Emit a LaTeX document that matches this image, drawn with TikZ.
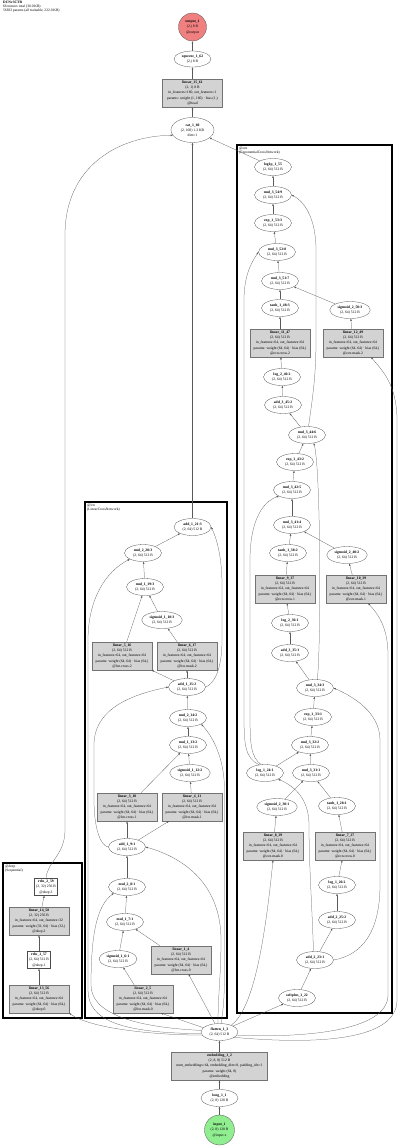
\documentclass[tikz,border=0pt]{standalone}
\usepackage{fontspec}
\setmainfont{Liberation Serif}
\usetikzlibrary{shapes.geometric,arrows.meta}
\definecolor{outred}{RGB}{240,128,128}
\definecolor{ingreen}{RGB}{144,238,144}
\definecolor{boxgray}{RGB}{211,211,211}
\begin{document}
\begin{tikzpicture}[x=1pt,y=-1pt,
  every node/.style={font=\fontsize{3.7}{5.2}\selectfont, align=center, inner sep=0pt},
  ell/.style={ellipse, draw=black!70, line width=0.28pt, fill=white, minimum width=37pt, minimum height=17pt, inner xsep=2pt},
  gbox/.style={rectangle, draw=black!55, line width=0.28pt, fill=boxgray, minimum width=60pt, minimum height=28pt},
  wbox/.style={rectangle, draw=black!70, line width=0.28pt, fill=white, minimum height=17pt, inner xsep=1.5pt},
  edge/.style={draw=black!65, line width=0.25pt, -{Latex[length=2.2pt,width=1.7pt]}},
  clus/.style={draw=black, line width=1.4pt},
  lbl/.style={anchor=north west, align=left, font=\fontsize{3.6}{4.2}\selectfont},
  ]
\useasboundingbox (0,0) rectangle (400,1146);
\fill[white] (0,0) rectangle (400,1146);

% title
\node[lbl] (title) at (3,0.8) {\textbf{DCNv3CTR}\\66 tensors total (30.0 KB)\\56833 params (all trainable, 222.0 KB)};

% clusters
\draw[clus] (85,502) rectangle (227,1018);
\node[lbl] (lcnlbl) at (87,503.5) {@lcn\\(LinearCrossNetwork)};
\draw[clus] (237,145) rectangle (392,1013);
\node[lbl] (ecnlbl) at (239,146.5) {@ecn\\(ExponentialCrossNetwork)};
\draw[clus] (3,863) rectangle (82,1018);
\node[lbl] (deeplbl) at (5,864.5) {@deep\\(Sequential)};

% main column
\node[circle, draw=black!70, line width=0.28pt, fill=outred, minimum size=28pt] (output1) at (192.5,27) {\textbf{output\_1}\\(2,) 8 B\\@output};
\node[ell, minimum height=16pt] (squeeze) at (192.5,59) {\textbf{squeeze\_1\_62}\\(2,) 8 B};
\node[gbox] (lin15) at (192.5,93) {\textbf{linear\_15\_61}\\(2, 1) 8 B\\in\_features=160, out\_features=1\\params: weight (1, 160) · bias (1,)\\@head};
\node[ell, minimum width=43pt, minimum height=25pt] (cat) at (192.5,130) {\textbf{cat\_1\_60}\\(2, 160) 1.2 KB\\dim=1};
\node[ell] (flat) at (219.5,1032) {\textbf{flatten\_1\_3}\\(2, 64) 512 B};
\node[gbox, minimum width=96pt] (emb) at (219.5,1066) {\textbf{embedding\_1\_2}\\(2, 8, 8) 512 B\\num\_embeddings=64, embedding\_dim=8, padding\_idx=1\\params: weight (64, 8)\\@embedding};
\node[ell] (long) at (219.5,1098) {\textbf{long\_1\_1}\\(2, 8) 128 B};
\node[circle, draw=black!70, line width=0.28pt, fill=ingreen, minimum size=30pt] (input1) at (219.5,1130) {\textbf{input\_1}\\(2, 8) 128 B\\@input.x};

% LCN
\node[ell] (add21) at (192.5,527) {\textbf{add\_1\_21:3}\\(2, 64) 512 B};
\node[ell] (mul220) at (143,553) {\textbf{mul\_2\_20:3}\\(2, 64) 512 B};
\node[ell] (mul119) at (145,587) {\textbf{mul\_1\_19:3}\\(2, 64) 512 B};
\node[ell] (sig118) at (162,620) {\textbf{sigmoid\_1\_18:3}\\(2, 64) 512 B};
\node[gbox] (lin5) at (122,656) {\textbf{linear\_5\_16}\\(2, 64) 512 B\\in\_features=64, out\_features=64\\params: weight (64, 64) · bias (64,)\\@lcn.cross.2};
\node[gbox] (lin6) at (187,656) {\textbf{linear\_6\_17}\\(2, 64) 512 B\\in\_features=64, out\_features=64\\params: weight (64, 64) · bias (64,)\\@lcn.mask.2};
\node[ell] (add15) at (187,687) {\textbf{add\_1\_15:2}\\(2, 64) 512 B};
\node[ell] (mul214) at (188,718) {\textbf{mul\_2\_14:2}\\(2, 64) 512 B};
\node[ell] (mul113) at (188,745) {\textbf{mul\_1\_13:2}\\(2, 64) 512 B};
\node[ell] (sig112) at (190,773) {\textbf{sigmoid\_1\_12:2}\\(2, 64) 512 B};
\node[gbox] (lin3) at (127,807) {\textbf{linear\_3\_10}\\(2, 64) 512 B\\in\_features=64, out\_features=64\\params: weight (64, 64) · bias (64,)\\@lcn.cross.1};
\node[gbox] (lin4) at (192,807) {\textbf{linear\_4\_11}\\(2, 64) 512 B\\in\_features=64, out\_features=64\\params: weight (64, 64) · bias (64,)\\@lcn.mask.1};
\node[ell] (add9) at (127,847) {\textbf{add\_1\_9:1}\\(2, 64) 512 B};
\node[ell] (mul28) at (127,887) {\textbf{mul\_2\_8:1}\\(2, 64) 512 B};
\node[ell] (mul17) at (125,922) {\textbf{mul\_1\_7:1}\\(2, 64) 512 B};
\node[ell] (sig16) at (118,959) {\textbf{sigmoid\_1\_6:1}\\(2, 64) 512 B};
\node[gbox] (lin1) at (181,960) {\textbf{linear\_1\_4}\\(2, 64) 512 B\\in\_features=64, out\_features=64\\params: weight (64, 64) · bias (64,)\\@lcn.cross.0};
\node[gbox] (lin2) at (143,999) {\textbf{linear\_2\_5}\\(2, 64) 512 B\\in\_features=64, out\_features=64\\params: weight (64, 64) · bias (64,)\\@lcn.mask.0};

% ECN
\node[ell] (log1p) at (273,167) {\textbf{log1p\_1\_55}\\(2, 64) 512 B};
\node[ell] (mul354) at (273,195) {\textbf{mul\_3\_54:9}\\(2, 64) 512 B};
\node[ell] (exp153) at (273,223) {\textbf{exp\_1\_53:3}\\(2, 64) 512 B};
\node[ell] (mul352) at (277,252) {\textbf{mul\_3\_52:8}\\(2, 64) 512 B};
\node[ell] (mul351) at (280,281) {\textbf{mul\_3\_51:7}\\(2, 64) 512 B};
\node[ell] (tanh48) at (280,308) {\textbf{tanh\_1\_48:3}\\(2, 64) 512 B};
\node[ell] (sig250) at (350,310) {\textbf{sigmoid\_2\_50:3}\\(2, 64) 512 B};
\node[gbox] (lin11) at (280,343) {\textbf{linear\_11\_47}\\(2, 64) 512 B\\in\_features=64, out\_features=64\\params: weight (64, 64) · bias (64,)\\@ecn.cross.2};
\node[gbox] (lin12) at (353,343) {\textbf{linear\_12\_49}\\(2, 64) 512 B\\in\_features=64, out\_features=64\\params: weight (64, 64) · bias (64,)\\@ecn.mask.2};
\node[ell] (log246) at (282,377) {\textbf{log\_2\_46:2}\\(2, 64) 512 B};
\node[ell] (add345) at (283,405) {\textbf{add\_3\_45:2}\\(2, 64) 512 B};
\node[ell] (mul344) at (307,435) {\textbf{mul\_3\_44:6}\\(2, 64) 512 B};
\node[ell] (exp143) at (295,462) {\textbf{exp\_1\_43:2}\\(2, 64) 512 B};
\node[ell] (mul342) at (292,490) {\textbf{mul\_3\_42:5}\\(2, 64) 512 B};
\node[ell] (mul341) at (292,525) {\textbf{mul\_3\_41:4}\\(2, 64) 512 B};
\node[ell] (tanh38) at (288,553) {\textbf{tanh\_1\_38:2}\\(2, 64) 512 B};
\node[ell] (sig240) at (347,555) {\textbf{sigmoid\_2\_40:2}\\(2, 64) 512 B};
\node[gbox] (lin9) at (285,589) {\textbf{linear\_9\_37}\\(2, 64) 512 B\\in\_features=64, out\_features=64\\params: weight (64, 64) · bias (64,)\\@ecn.cross.1};
\node[gbox] (lin10) at (356,589) {\textbf{linear\_10\_39}\\(2, 64) 512 B\\in\_features=64, out\_features=64\\params: weight (64, 64) · bias (64,)\\@ecn.mask.1};
\node[ell] (log236) at (290,623) {\textbf{log\_2\_36:1}\\(2, 64) 512 B};
\node[ell] (add335) at (290,653) {\textbf{add\_3\_35:1}\\(2, 64) 512 B};
\node[ell] (mul334) at (315,688) {\textbf{mul\_3\_34:3}\\(2, 64) 512 B};
\node[ell] (exp133) at (313,717) {\textbf{exp\_1\_33:1}\\(2, 64) 512 B};
\node[ell] (mul332) at (310,745) {\textbf{mul\_3\_32:2}\\(2, 64) 512 B};
\node[ell] (log124) at (265,773) {\textbf{log\_1\_24:1}\\(2, 64) 512 B};
\node[ell] (mul331) at (311,773) {\textbf{mul\_3\_31:1}\\(2, 64) 512 B};
\node[ell] (sig230) at (277,807) {\textbf{sigmoid\_2\_30:1}\\(2, 64) 512 B};
\node[ell] (tanh28) at (337,806) {\textbf{tanh\_1\_28:1}\\(2, 64) 512 B};
\node[gbox] (lin8) at (273,846) {\textbf{linear\_8\_29}\\(2, 64) 512 B\\in\_features=64, out\_features=64\\params: weight (64, 64) · bias (64,)\\@ecn.mask.0};
\node[gbox] (lin7) at (345,846) {\textbf{linear\_7\_27}\\(2, 64) 512 B\\in\_features=64, out\_features=64\\params: weight (64, 64) · bias (64,)\\@ecn.cross.0};
\node[ell] (log126) at (337,885) {\textbf{log\_1\_26:2}\\(2, 64) 512 B};
\node[ell] (add225) at (337,920) {\textbf{add\_2\_25:2}\\(2, 64) 512 B};
\node[ell] (add223) at (315,960) {\textbf{add\_2\_23:1}\\(2, 64) 512 B};
\node[ell] (softplus) at (297,998) {\textbf{softplus\_1\_22}\\(2, 64) 512 B};

% deep
\node[wbox] (relu259) at (46,887) {\textbf{relu\_2\_59}\\(2, 32) 256 B\\@deep.3};
\node[gbox] (lin14) at (39,921) {\textbf{linear\_14\_58}\\(2, 32) 256 B\\in\_features=64, out\_features=32\\params: weight (32, 64) · bias (32,)\\@deep.2};
\node[wbox] (relu157) at (39,960) {\textbf{relu\_1\_57}\\(2, 64) 512 B\\@deep.1};
\node[gbox] (lin13) at (39,999) {\textbf{linear\_13\_56}\\(2, 64) 512 B\\in\_features=64, out\_features=64\\params: weight (64, 64) · bias (64,)\\@deep.0};

% ---- edges: main
\draw[edge] (input1) -- (long);
\draw[edge] (long) -- (emb);
\draw[edge] (emb) -- (flat);
\draw[edge] (cat) -- (lin15);
\draw[edge] (lin15) -- (squeeze);
\draw[edge] (squeeze) -- (output1);
\draw[edge] (add21) -- (cat);
\draw[edge] (log1p) -- (cat);
\draw[edge] (relu259.north) .. controls (47,862) and (65,855) .. (65,830) -- (65,235) .. controls (65,165) and (120,136) .. (cat.195);

% ---- edges: LCN
\draw[edge] (flat) -- (lin1);
\draw[edge] (flat.165) -- ([xshift=18pt]lin2.south);
\draw[edge] (lin2) -- (sig16);
\draw[edge] (sig16) -- (mul17);
\draw[edge] (lin1) -- (mul17);
\draw[edge] (mul17) -- (mul28);
\draw[edge] (flat.175) .. controls (130,1027) and (91,1012) .. (91,985) .. controls (91,930) and (98,905) .. (mul28.south west);
\draw[edge] (mul28) -- (add9);
\draw[edge] (flat.100) .. controls (218,995) and (221,975) .. (221,940) .. controls (221,885) and (185,858) .. (add9.east);
\draw[edge] (add9) -- (lin3);
\draw[edge] (add9) -- (lin4);
\draw[edge] (lin4) -- (sig112);
\draw[edge] (sig112) -- (mul113);
\draw[edge] (lin3) -- (mul113);
\draw[edge] (mul113) -- (mul214);
\draw[edge] (flat.80) .. controls (224,1005) and (224.5,995) .. (224.5,965) -- (224.5,790) .. controls (224.5,760) and (214,738) .. (mul214.south east);
\draw[edge] (mul214) -- (add15);
\draw[edge] (add9.west) .. controls (101,846) and (94,830) .. (94,800) -- (94,745) .. controls (94,705) and (140,693) .. (add15.west);
\draw[edge] (add15) -- (lin5);
\draw[edge] (add15) -- (lin6);
\draw[edge] (lin6) -- (sig118);
\draw[edge] (sig118) -- (mul119);
\draw[edge] (lin5) -- (mul119);
\draw[edge] (mul119) -- (mul220);
\draw[edge] (flat.185) .. controls (120,1033) and (88,1020) .. (88,990) -- (88,640) .. controls (88,600) and (105,572) .. (mul220.south west);
\draw[edge] (mul220) -- (add21);
\draw[edge] (add15.east) .. controls (214,684) and (222,670) .. (222,640) -- (222,585) .. controls (222,555) and (216,537) .. (add21.east);

% ---- edges: ECN
\draw[edge] (flat) -- (softplus);
\draw[edge] (flat.30) .. controls (252,1010) and (264,950) .. (lin8.south);
\draw[edge] (flat.-10) .. controls (300,1038) and (388,1032) .. (388,995) -- (388,655) .. controls (388,625) and (376,612) .. ([xshift=12pt]lin10.south);
\draw[edge] (flat.-20) .. controls (320,1045) and (397,1040) .. (397,1000) -- (397,420) .. controls (397,385) and (382,370) .. ([xshift=18pt]lin12.south);
\draw[edge] (softplus) -- (add223);
\draw[edge] (add223) -- (add225);
\draw[edge] (add223.100) .. controls (312,905) and (309,865) .. (309,825) .. controls (309,800) and (296,787) .. (log124.south east);
\draw[edge] (add223.east) .. controls (362,955) and (380,932) .. (380,885) -- (380,740) .. controls (380,712) and (352,696) .. (mul334.east);
\draw[edge] (add225) -- (log126);
\draw[edge] (log126) -- (lin7);
\draw[edge] (lin7) -- (tanh28);
\draw[edge] (lin8) -- (sig230);
\draw[edge] (tanh28) -- (mul331);
\draw[edge] (sig230) -- (mul331);
\draw[edge] (mul331) -- (mul332);
\draw[edge] (log124) -- (mul332);
\draw[edge] (mul332) -- (exp133);
\draw[edge] (exp133) -- (mul334);
\draw[edge] (mul334) -- (add335);
\draw[edge] (add335) -- (log236);
\draw[edge] (log236) -- (lin9);
\draw[edge] (lin9) -- (tanh38);
\draw[edge] (lin10) -- (sig240);
\draw[edge] (tanh38) -- (mul341);
\draw[edge] (sig240) -- (mul341);
\draw[edge] (mul341) -- (mul342);
\draw[edge] (log124.115) .. controls (251,757) and (250,745) .. (250,715) -- (250,560) .. controls (250,522) and (262,502) .. (mul342.south west);
\draw[edge] (mul342) -- (exp143);
\draw[edge] (exp143) -- (mul344);
\draw[edge] (mul334.75) .. controls (321,650) and (321,470) .. (mul344.-50);
\draw[edge] (mul344) -- (add345);
\draw[edge] (add345) -- (log246);
\draw[edge] (log246) -- (lin11);
\draw[edge] (lin11) -- (tanh48);
\draw[edge] (lin12) -- (sig250);
\draw[edge] (tanh48) -- (mul351);
\draw[edge] (sig250) -- (mul351);
\draw[edge] (mul351) -- (mul352);
\draw[edge] (log124.125) .. controls (245,758) and (244,745) .. (244,715) -- (244,300) .. controls (244,272) and (254,259) .. (mul352.west);
\draw[edge] (mul352) -- (exp153);
\draw[edge] (exp153) -- (mul354);
\draw[edge] (mul344.80) .. controls (313,395) and (316,375) .. (316,340) -- (316,250) .. controls (316,215) and (302,200) .. (mul354.east);
\draw[edge] (mul354) -- (log1p);

% ---- edges: deep
\draw[edge] (flat.190) .. controls (150,1035) and (90,1028) .. (lin13.south east);
\draw[edge] (lin13) -- (relu157);
\draw[edge] (relu157) -- (lin14);
\draw[edge] (lin14) -- (relu259);
\end{tikzpicture}
\end{document}
